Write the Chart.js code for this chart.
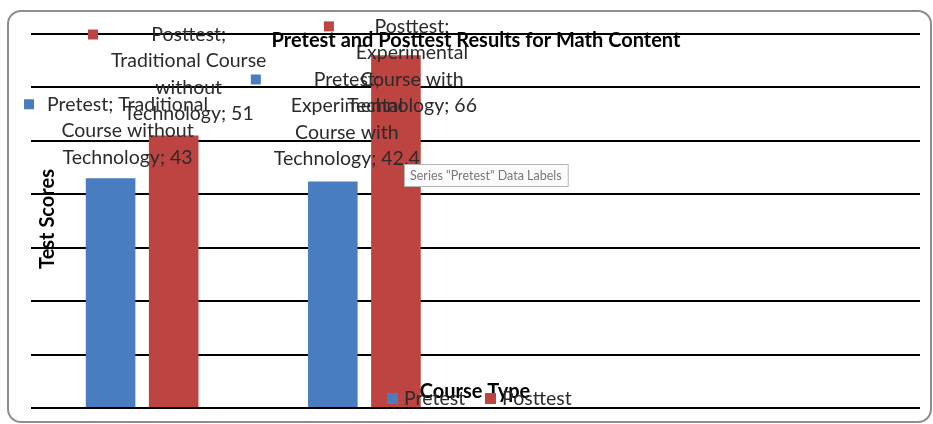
<!DOCTYPE html>
<html>
<head>
<meta charset="utf-8">
<script src="https://cdn.jsdelivr.net/npm/chart.js@4.4.1/dist/chart.umd.min.js"></script>
<style>
	body { margin: 0; background: #fff; }
	#wrap { position: relative; width: 933px; height: 424px; overflow: hidden; }
	#frame { position: absolute; left: 7px; top: 10px; width: 925px; height: 413px; box-sizing: border-box;
		border: 2px solid #8e8e8e; border-radius: 14px; }
	#chart { position: absolute; left: 0; top: 0; }
</style>
</head>
<body>
<div id="wrap">
	<div id="frame"></div>
	<canvas id="chart" width="933" height="424"></canvas>
</div>
<script>
// data
const categories = ['Traditional Course without Technology', 'Experimental Course with Technology', '', ''];
const seriesNames = ['Pretest', 'Posttest'];
const pretest = [43, 42.4, null, null];
const posttest = [51, 66, null, null];
const yMin = 0, yMax = 70, yStep = 10;

const title = 'Pretest and Posttest Results for Math Content';
const xTitle = 'Course Type';
const yTitle = 'Test Scores';
const tooltipText = 'Series "Pretest" Data Labels';

const colors = ['#4a7dbf', '#be4441'];

// how many words go on each line of a data label, and where the label sits from its bar top
const labelBreaks = [
	[[2, 2, 2], [1, 1, 2, 2]],
	[[1, 2, 1, 2], [1, 1, 2, 2]]
];
const labelOffsets = [
	[{dx: 17, dy: -74}, {dx: 14, dy: -102}],
	[{dx: 15, dy: -101}, {dx: 16, dy: -29}]
];

const FONT = 'Lato, "Open Sans", sans-serif';

const textPlugin = {
	id: 'texts',
	afterDatasetsDraw(chart) {
		const ctx = chart.ctx;
		ctx.save();

		// data labels
		ctx.font = `19.5px ${FONT}`;
		ctx.textBaseline = 'middle';
		ctx.textAlign = 'center';
		const lh = 26.5;
		chart.data.datasets.forEach((ds, i) => {
			const meta = chart.getDatasetMeta(i);
			ds.data.forEach((v, j) => {
				if (v == null) return;
				let words = `${seriesNames[i]}; ${categories[j]}; ${v}`.split(' ');
				let lines = [];
				for (let n of labelBreaks[i][j]) lines.push(words.splice(0, n).join(' '));
				let bar = meta.data[j];
				let cx = bar.x + labelOffsets[i][j].dx,
					top = bar.y + labelOffsets[i][j].dy;
				let w = Math.max(...lines.map(l => ctx.measureText(l).width));
				ctx.fillStyle = colors[i];
				ctx.fillRect(cx - w / 2 - 23, top - 5, 10, 10);
				ctx.fillStyle = '#2b2b2b';
				lines.forEach((l, k) => ctx.fillText(l, cx, top + k * lh));
			});
		});

		// title
		ctx.fillStyle = '#000';
		ctx.font = `bold 20px ${FONT}`;
		ctx.fillText(title, 476, 41);

		// axis titles
		ctx.fillText(xTitle, 475, 392);
		ctx.save();
		ctx.translate(48, 219);
		ctx.rotate(-Math.PI / 2);
		ctx.fillText(yTitle, 0, 0);
		ctx.restore();

		// legend
		ctx.font = `19.5px ${FONT}`;
		ctx.textAlign = 'left';
		let lx = 387;
		seriesNames.forEach((s, i) => {
			ctx.fillStyle = colors[i];
			ctx.fillRect(lx, 393, 11, 11);
			ctx.fillStyle = '#2b2b2b';
			ctx.fillText(s, lx + 17, 399);
			lx += 98;
		});

		// hover hint box
		ctx.font = `12.5px ${FONT}`;
		let tw = ctx.measureText(tooltipText).width;
		ctx.fillStyle = '#fbfbfb';
		ctx.fillRect(404, 164, tw + 12, 22);
		ctx.strokeStyle = '#b5b5b5';
		ctx.lineWidth = 1;
		ctx.strokeRect(404.5, 164.5, tw + 12, 22);
		ctx.fillStyle = '#777';
		ctx.fillText(tooltipText, 410, 176);

		ctx.restore();
	}
};

new Chart(document.getElementById('chart'), {
	type: 'bar',
	data: {
		labels: categories,
		datasets: [
			{ label: seriesNames[0], data: pretest, backgroundColor: colors[0] },
			{ label: seriesNames[1], data: posttest, backgroundColor: colors[1] }
		]
	},
	options: {
		responsive: false,
		animation: false,
		categoryPercentage: 0.568,
		barPercentage: 0.786,
		layout: { padding: { left: 31, right: 13, top: 34, bottom: 8 } },
		plugins: { legend: { display: false }, title: { display: false }, tooltip: { enabled: false } },
		scales: {
			x: {
				ticks: { display: false },
				grid: { display: false },
				border: { display: false }
			},
			y: {
				min: yMin,
				max: yMax,
				ticks: { display: false, stepSize: yStep },
				grid: { color: '#000', lineWidth: 2, drawTicks: false },
				border: { display: false }
			}
		}
	},
	plugins: [textPlugin]
});
</script>
</body>
</html>
